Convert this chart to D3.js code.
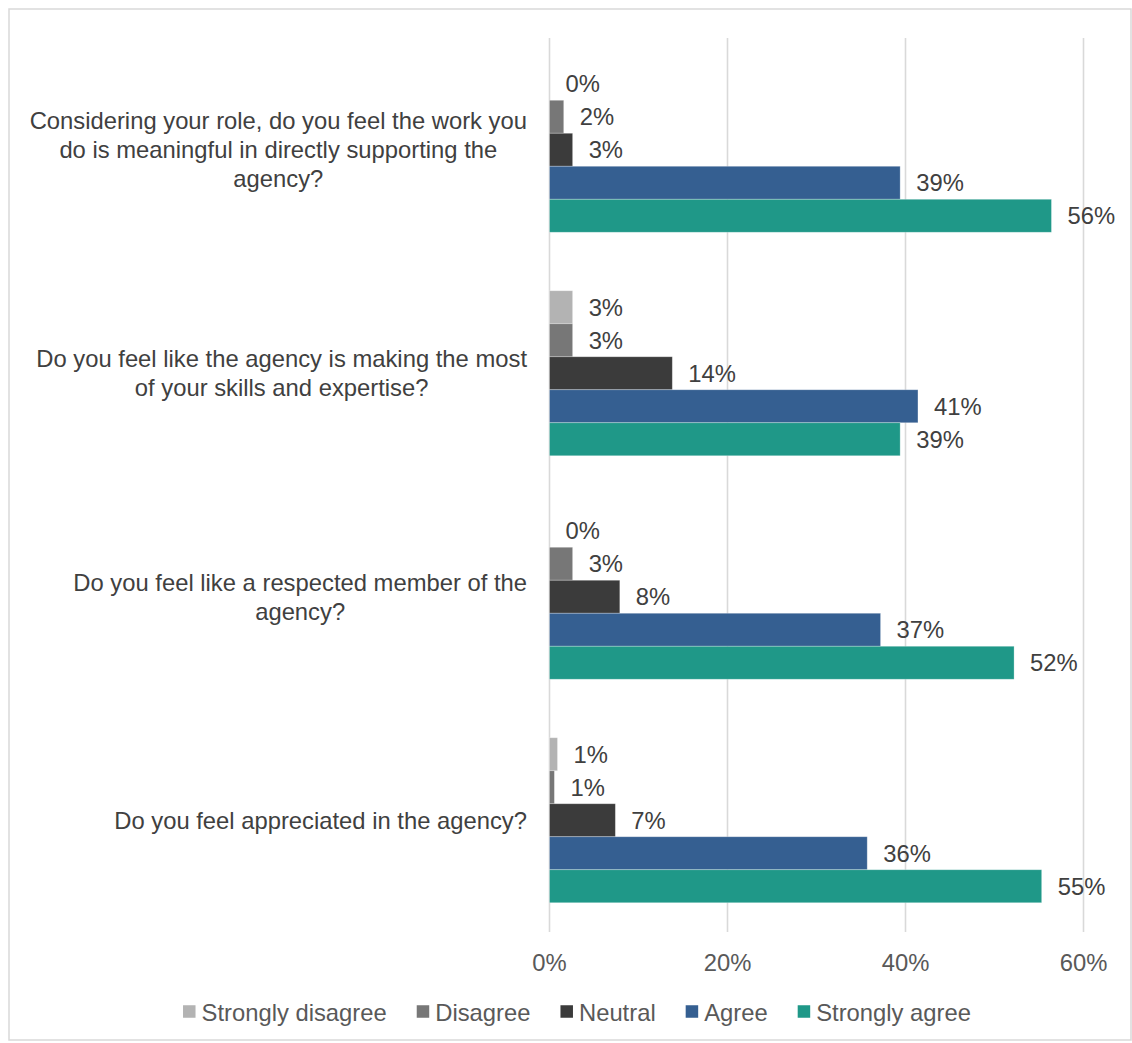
<!DOCTYPE html>
<html>
<head>
<meta charset="utf-8">
<script src="https://cdn.jsdelivr.net/npm/d3@7"></script>
<style>
  html, body { margin: 0; padding: 0; background: #ffffff; }
  svg { display: block; font-family: "Liberation Sans", Arial, sans-serif; }
</style>
</head>
<body>
<svg id="chart" width="1132" height="1043"></svg>
<script>
// Survey questions (wrapped into display lines)
const categories = [
  "Considering your role, do you feel the work you do is meaningful in directly supporting the agency?",
  "Do you feel like the agency is making the most of your skills and expertise?",
  "Do you feel like a respected member of the agency?",
  "Do you feel appreciated in the agency?"
];
const categoryLines = [
  ["Considering your role, do you feel the work you", "do is meaningful in directly supporting the", "agency?"],
  ["Do you feel like the agency is making the most", "of your skills and expertise?"],
  ["Do you feel like a respected member of the", "agency?"],
  ["Do you feel appreciated in the agency?"]
];

// Response options, in drawing order (top to bottom inside each group)
const series = ["Strongly disagree", "Disagree", "Neutral", "Agree", "Strongly agree"];
const seriesColors = ["#b3b3b3", "#777777", "#3b3b3b", "#355f91", "#1f9888"];

// Share of respondents (%) per question, one array per response option
const stronglyDisagree = [0, 2.6, 0, 0.9];
const disagree         = [1.6, 2.6, 2.6, 0.55];
const neutral          = [2.6, 13.8, 7.9, 7.4];
const agree            = [39.4, 41.4, 37.2, 35.7];
const stronglyAgree    = [56.4, 39.4, 52.2, 55.3];
const seriesValues = [stronglyDisagree, disagree, neutral, agree, stronglyAgree];

// Value axis ticks
const tickValues = [0, 20, 40, 60];
const tickLabels = ["0%", "20%", "40%", "60%"];

const svg = d3.select("#chart");
const W = 1132, H = 1043;
const plot = { left: 549.5, right: 1083.5, top: 38, bottom: 932 };
const textDark = "#404040";
const textMid = "#595959";
const fontSize = 23.8;

// Outer chart frame
svg.append("rect")
  .attr("x", 9).attr("y", 9)
  .attr("width", W - 10).attr("height", H - 12)
  .attr("fill", "#ffffff")
  .attr("stroke", "#d9d9d9")
  .attr("stroke-width", 1.5);

const x = d3.scaleLinear().domain([0, 60]).range([plot.left, plot.right]);
const y0 = d3.scaleBand()
  .domain(categories)
  .range([plot.top, plot.bottom])
  .paddingInner(0.2617)
  .paddingOuter(0.1309);
const y1 = d3.scaleBand().domain(series).range([0, y0.bandwidth()]);
const color = d3.scaleOrdinal().domain(series).range(seriesColors);

// Vertical gridlines (including the zero line)
svg.append("g")
  .selectAll("line")
  .data(tickValues)
  .join("line")
  .attr("x1", d => x(d)).attr("x2", d => x(d))
  .attr("y1", plot.top).attr("y2", plot.bottom)
  .attr("stroke", "#d9d9d9")
  .attr("stroke-width", 1.6);

// Tick labels below the plot
svg.append("g")
  .selectAll("text")
  .data(tickValues)
  .join("text")
  .attr("x", d => x(d))
  .attr("y", 962)
  .attr("text-anchor", "middle")
  .attr("dominant-baseline", "central")
  .attr("font-size", fontSize)
  .attr("fill", textMid)
  .text((d, i) => tickLabels[i]);

// Flatten into one record per bar
const records = [];
categories.forEach((c, ci) => {
  series.forEach((s, si) => {
    records.push({ category: c, series: s, value: seriesValues[si][ci] });
  });
});

// Bars
svg.append("g")
  .selectAll("rect")
  .data(records)
  .join("rect")
  .attr("x", x(0))
  .attr("y", d => y0(d.category) + y1(d.series))
  .attr("width", d => Math.max(0, x(d.value) - x(0)))
  .attr("height", y1.bandwidth())
  .attr("fill", d => color(d.series))
  .attr("stroke", "rgba(255,255,255,0.35)")
  .attr("stroke-width", 0.8);

// Value labels to the right of each bar
svg.append("g")
  .selectAll("text")
  .data(records)
  .join("text")
  .attr("x", d => x(d.value) + 16)
  .attr("y", d => y0(d.category) + y1(d.series) + y1.bandwidth() / 2)
  .attr("dominant-baseline", "central")
  .attr("font-size", fontSize)
  .attr("fill", textDark)
  .text(d => Math.round(d.value) + "%");

// Category labels: block right-aligned to the axis, lines centred within the block
const labelRight = 527;
const lineHeight = 28.8;
categories.forEach((c, ci) => {
  const lines = categoryLines[ci];
  const g = svg.append("g");
  const texts = g.selectAll("text")
    .data(lines)
    .join("text")
    .attr("font-size", fontSize)
    .attr("fill", textDark)
    .attr("text-anchor", "middle")
    .attr("dominant-baseline", "central")
    .text(d => d);
  let maxW = 0;
  texts.each(function () { maxW = Math.max(maxW, this.getComputedTextLength()); });
  const cx = labelRight - maxW / 2;
  const cy = y0(c) + y0.bandwidth() / 2;
  texts
    .attr("x", cx)
    .attr("y", (d, i) => cy + (i - (lines.length - 1) / 2) * lineHeight);
});

// Legend along the bottom
const legend = svg.append("g");
const sw = 12.5, swGap = 6, itemGap = 30;
let cursor = 0;
series.forEach(s => {
  const g = legend.append("g");
  g.append("rect")
    .attr("x", 0).attr("y", -sw / 2 - 0.5)
    .attr("width", sw).attr("height", sw)
    .attr("fill", color(s));
  const t = g.append("text")
    .attr("x", sw + swGap).attr("y", 0)
    .attr("dominant-baseline", "central")
    .attr("font-size", fontSize)
    .attr("fill", textMid)
    .text(s);
  const w = sw + swGap + t.node().getComputedTextLength();
  g.attr("transform", `translate(${cursor},0)`);
  cursor += w + itemGap;
});
const legendWidth = cursor - itemGap;
legend.attr("transform", `translate(${577 - legendWidth / 2},1012)`);
</script>
</body>
</html>
